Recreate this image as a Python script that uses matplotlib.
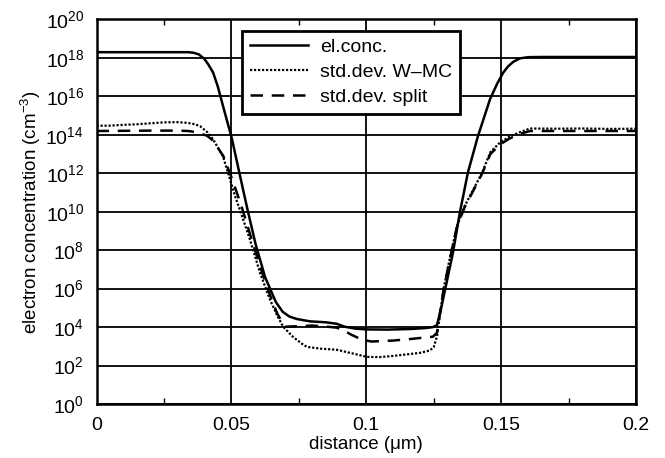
import numpy as np
import matplotlib
matplotlib.use("Agg")
import matplotlib.pyplot as plt
from matplotlib.ticker import FixedLocator, FuncFormatter

plt.rcParams['font.family'] = ['Liberation Sans', 'DejaVu Sans']
plt.rcParams['mathtext.fontset'] = 'custom'
plt.rcParams['mathtext.rm'] = 'Liberation Sans'
plt.rcParams['mathtext.it'] = 'Liberation Sans:italic'

# ---- data (x in um, values as log10 of concentration) ----
elconc_x = [0.0, 0.020, 0.034, 0.036, 0.038, 0.040, 0.0415, 0.0432, 0.045, 0.0469,
            0.0502, 0.0530, 0.0560, 0.0590, 0.0625, 0.0665, 0.069, 0.0715, 0.0743,
            0.0791, 0.085, 0.0891, 0.092, 0.096, 0.1003, 0.108, 0.1162, 0.122,
            0.1247, 0.1262, 0.1275, 0.129, 0.1321, 0.1347, 0.1377, 0.1414, 0.1459,
            0.1485, 0.1507, 0.1525, 0.1545, 0.157, 0.160, 0.165, 0.2]
elconc_log = [18.30, 18.30, 18.30, 18.27, 18.18, 17.95, 17.65, 17.25, 16.5, 15.5,
              13.8, 12.0, 10.1, 8.3, 6.6, 5.3, 4.8, 4.55, 4.42,
              4.30, 4.25, 4.17, 4.02, 3.92, 3.88, 3.87, 3.90, 3.95,
              4.0, 4.1, 4.8, 5.8, 7.84, 9.96, 12.05, 13.93, 15.86,
              16.65, 17.22, 17.55, 17.8, 17.98, 18.04, 18.05, 18.05]

wmc_x = [0.0, 0.005, 0.010, 0.015, 0.020, 0.025, 0.030, 0.034, 0.0365, 0.0384,
         0.041, 0.0432, 0.0469, 0.0495, 0.0514, 0.054, 0.0569, 0.0606, 0.0643,
         0.067, 0.0692, 0.0728, 0.0760, 0.0780, 0.083, 0.0891, 0.094, 0.1003,
         0.105, 0.11, 0.1199, 0.1235, 0.1250, 0.1262, 0.1286, 0.1311, 0.1336,
         0.1365, 0.1397, 0.1430, 0.146, 0.1496, 0.153, 0.157, 0.1607, 0.17,
         0.18, 0.19, 0.2]
wmc_log = [14.47, 14.48, 14.52, 14.55, 14.6, 14.65, 14.66, 14.62, 14.55, 14.45,
           14.15, 13.77, 12.88, 11.68, 10.8, 9.75, 8.55, 6.83, 5.43,
           4.6, 4.02, 3.5, 3.15, 2.97, 2.88, 2.82, 2.66, 2.45,
           2.44, 2.5, 2.66, 2.78, 2.95, 3.5, 5.93, 7.67, 9.23,
           10.3, 11.16, 12.05, 13.1, 13.6, 13.9, 14.14, 14.33, 14.32,
           14.33, 14.31, 14.32]

split_x = [0.0, 0.010, 0.020, 0.030, 0.034, 0.0365, 0.0384, 0.041, 0.0432, 0.047,
           0.050, 0.0535, 0.057, 0.061, 0.0645, 0.067, 0.0699, 0.075, 0.080,
           0.085, 0.0891, 0.092, 0.0945, 0.0985, 0.102, 0.11, 0.117, 0.1247,
           0.1262, 0.1286, 0.1311, 0.1336, 0.1365, 0.1397, 0.1430, 0.146, 0.1496,
           0.153, 0.157, 0.1607, 0.18, 0.2]
split_log = [14.2, 14.21, 14.22, 14.22, 14.2, 14.15, 14.08, 13.95, 13.7, 12.9,
             11.8, 10.4, 8.8, 7.0, 5.6, 4.7, 4.02, 4.05, 4.08,
             4.03, 3.97, 3.8, 3.6, 3.34, 3.25, 3.3, 3.39, 3.5,
             3.7, 5.9, 7.6, 9.2, 10.25, 11.1, 12.0, 13.0, 13.5,
             13.8, 14.05, 14.2, 14.2, 14.2]

labels = ['el.conc.', 'std.dev. W\u2013MC', 'std.dev. split']
xticks = [0, 0.05, 0.1, 0.15, 0.2]
xtick_labels = ['0', '0.05', '0.1', '0.15', '0.2']
yexps = list(range(0, 21, 2))

fig = plt.figure(figsize=(6.65, 4.58), dpi=100)
ax = fig.add_axes([96.5/665, (458-404)/458, 539.5/665, 384.5/458])

ax.plot(elconc_x, 10**np.array(elconc_log), color='black', lw=1.8, ls='-', label=labels[0])
ax.plot(wmc_x, 10**np.array(wmc_log), color='black', lw=1.6, ls=(0, (1, 0.8)), label=labels[1])
ax.plot(split_x, 10**np.array(split_log), color='black', lw=1.8, ls=(0, (5, 3.5)), label=labels[2])

ax.set_yscale('log')
ax.set_xlim(0, 0.2)
ax.set_ylim(1, 1e20)

ax.yaxis.set_major_locator(FixedLocator([10.0**e for e in yexps]))
ax.yaxis.set_minor_locator(FixedLocator([]))
ax.yaxis.set_major_formatter(FuncFormatter(lambda v, p: r'$10^{%d}$' % round(np.log10(v))))
ax.xaxis.set_major_locator(FixedLocator(xticks))
ax.set_xticklabels(xtick_labels)
ax.xaxis.set_minor_locator(FixedLocator([0.025, 0.075, 0.125, 0.175]))

ax.grid(True, which='major', color='black', lw=1.3)
ax.tick_params(which='both', direction='in', top=True, right=True, labelsize=14, width=1)
ax.tick_params(axis='y', which='major', length=0, pad=9)
ax.tick_params(axis='x', which='major', length=0, pad=9)
ax.tick_params(axis='x', which='minor', length=4)
for s in ax.spines.values():
    s.set_linewidth(1.8)

ax.set_xlabel('distance (\u03bcm)', fontsize=13.5, labelpad=2)
ax.set_ylabel(r'electron concentration (cm$^{-3}$)', fontsize=13.5, labelpad=2)

leg = ax.legend(loc='upper left', bbox_to_anchor=(0.2695, 0.971), fontsize=14,
                frameon=True, fancybox=False, shadow=False, edgecolor='black',
                framealpha=1, handlelength=3.0, handletextpad=0.6,
                borderpad=0.4, labelspacing=0.38, borderaxespad=0)
leg.get_frame().set_linewidth(2.0)

fig.savefig('out.png', dpi=100)
